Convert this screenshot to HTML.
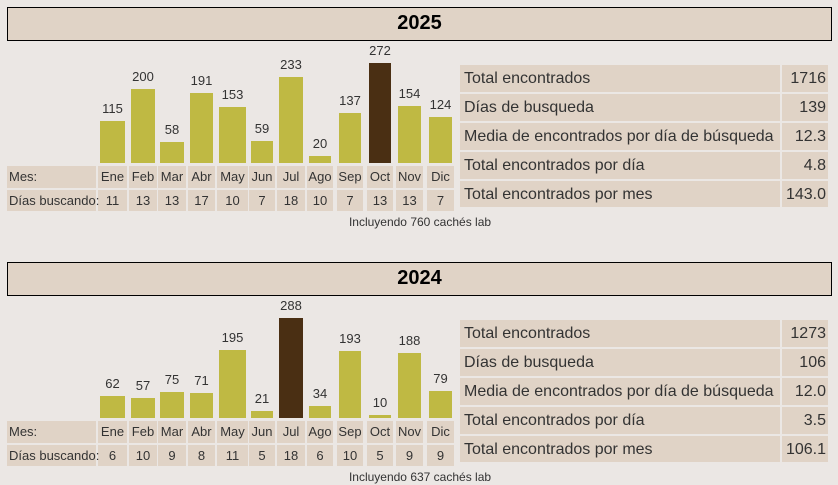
<!DOCTYPE html>
<html><head><meta charset="utf-8"><style>
body{margin:0;width:838px;height:485px;background:#ebe7e4;font-family:"Liberation Sans",sans-serif;position:relative;overflow:hidden;color:#333}
div{position:absolute;box-sizing:border-box}
.t{background:#e0d3c6;border:1px solid #000;font-weight:bold;font-size:20px;color:#000;text-align:center;line-height:31px;left:7px;width:825px;height:34px}
.c{background:#e0d3c6;font-size:13px;line-height:22px;text-align:center;white-space:nowrap}
.b{background:#bfb943}
.d{background:#4a2f13}
.l{font-size:13px;text-align:center;width:40px}
.r{background:#e0d3c6;font-size:16px;line-height:27px;padding:0 4px;white-space:nowrap}
</style></head><body>
<script>
const cols=[[98,127],[129,157],[158,186],[188,215],[217,248],[249,275],[277,305],[307,333],[337,363],[367,393],[396,423],[427,454]];
const m=["Ene","Feb","Mar","Abr","May","Jun","Jul","Ago","Sep","Oct","Nov","Dic"];
const S=[{y:0,yr:"2025",v:[115,200,58,191,153,59,233,20,137,272,154,124],d:[11,13,13,17,10,7,18,10,7,13,13,7],cap:"Incluyendo 760 cachés lab",st:["1716","139","12.3","4.8","143.0"]},
{y:255,yr:"2024",v:[62,57,75,71,195,21,288,34,193,10,188,79],d:[6,10,9,8,11,5,18,6,10,5,9,9],cap:"Incluyendo 637 cachés lab",st:["1273","106","12.0","3.5","106.1"]}];
const lab=["Total encontrados","Días de busqueda","Media de encontrados por día de búsqueda","Total encontrados por día","Total encontrados por mes"];
const ry=[65,94,123,152,181],rh=[27,27,27,27,26];
let h="";
S.forEach(s=>{const o=s.y;const max=Math.max(...s.v);
h+=`<div class="t" style="top:${7+o}px">${s.yr}</div>`;
s.v.forEach((v,i)=>{const [a,b]=cols[i];const hh=Math.max(2,Math.round(v*100/max));
const bot=163+o;h+=`<div class="${v==max?'d':'b'}" style="left:${a+2}px;width:${b-a-4}px;top:${bot-hh}px;height:${hh}px"></div>`;
h+=`<div class="l" style="left:${(a+b)/2-20}px;top:${bot-hh-20}px">${v}</div>`;
h+=`<div class="c" style="left:${a}px;width:${b-a}px;top:${166+o}px;height:22px">${m[i]}</div>`;
h+=`<div class="c" style="left:${a}px;width:${b-a}px;top:${190+o}px;height:21px;line-height:21px">${s.d[i]}</div>`;});
h+=`<div class="c" style="left:7px;width:89px;top:${166+o}px;height:22px;text-align:left;padding-left:2px">Mes:</div>`;
h+=`<div class="c" style="left:7px;width:89px;top:${190+o}px;height:21px;line-height:21px;text-align:left;padding-left:2px">Días buscando:</div>`;
h+=`<div style="left:300px;width:240px;text-align:center;font-size:12px;top:${215+o}px">${s.cap}</div>`;
lab.forEach((t,i)=>{h+=`<div class="r" style="left:460px;width:320px;top:${ry[i]+o}px;height:${rh[i]}px">${t}</div>`;
h+=`<div class="r" style="left:782px;width:46px;top:${ry[i]+o}px;height:${rh[i]}px;text-align:right;padding:0 2px">${s.st[i]}</div>`;});
});
document.write(h);
</script>
</body></html>
